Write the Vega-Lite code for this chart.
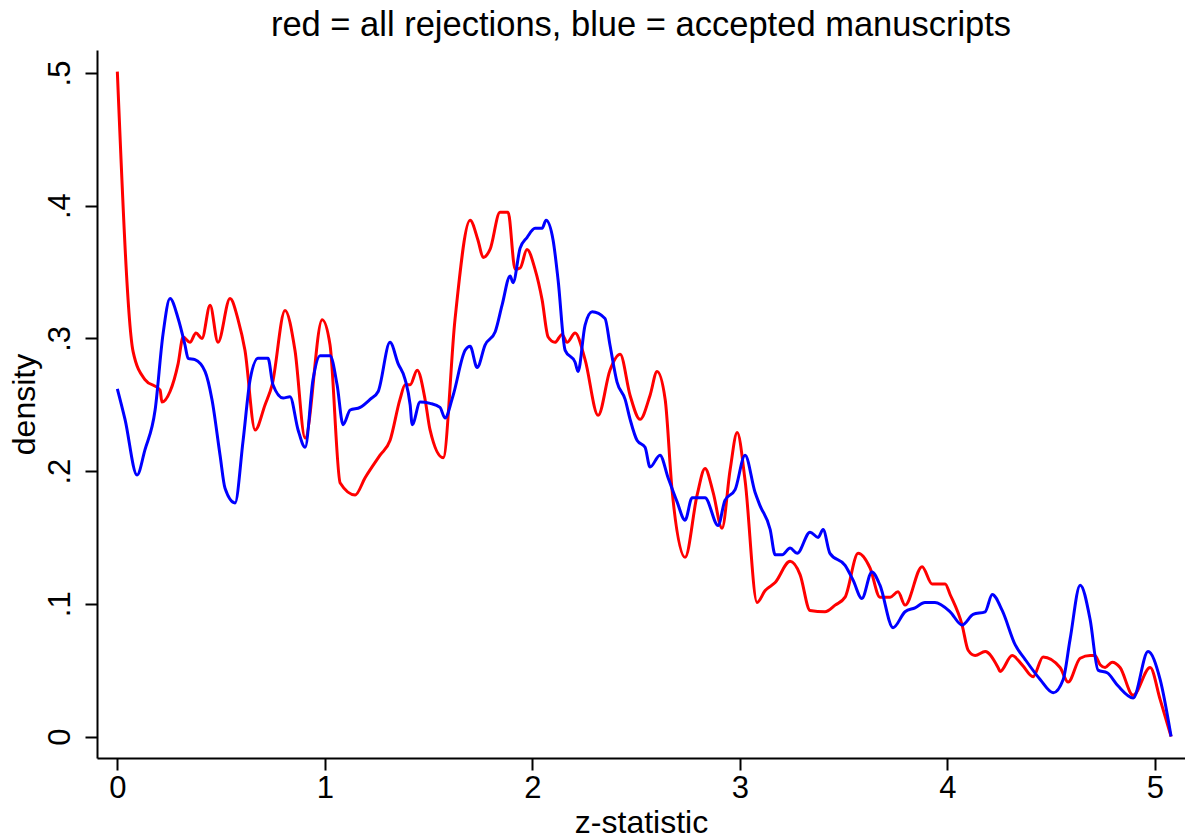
{
  "$schema": "https://vega.github.io/schema/vega-lite/v6.json",
  "width": 1088,
  "height": 708,
  "autosize": "none",
  "padding": {"left": 97, "top": 50, "right": 0, "bottom": 81},
  "background": "white",
  "config": {
    "font": "Liberation Sans",
    "view": {"stroke": null},
    "axis": {"grid": false, "domainColor": "black", "domainWidth": 2, "tickColor": "black", "tickWidth": 2, "tickSize": 12, "labelColor": "black", "titleColor": "black", "labelFont": "Liberation Sans", "titleFont": "Liberation Sans", "labelFontSize": 31, "titleFontSize": 32, "titleFontWeight": "normal"}
  },
  "title": {"text": "red = all rejections, blue = accepted manuscripts", "fontSize": 34.5, "fontWeight": "normal", "color": "black", "font": "Liberation Sans", "offset": 7},
  "datasets": {
    "red": [
      {"z":0.000,"d":0.501},{"z":0.076,"d":0.290},{"z":0.133,"d":0.269},{"z":0.206,"d":0.261},{"z":0.215,"d":0.252},{"z":0.254,"d":0.260},{"z":0.293,"d":0.281},{"z":0.317,"d":0.301},{"z":0.350,"d":0.297},{"z":0.379,"d":0.304},{"z":0.408,"d":0.300},{"z":0.447,"d":0.325},{"z":0.485,"d":0.297},{"z":0.543,"d":0.330},{"z":0.582,"d":0.314},{"z":0.615,"d":0.291},{"z":0.664,"d":0.231},{"z":0.712,"d":0.250},{"z":0.746,"d":0.265},{"z":0.808,"d":0.321},{"z":0.856,"d":0.291},{"z":0.905,"d":0.225},{"z":0.987,"d":0.314},{"z":1.025,"d":0.295},{"z":1.074,"d":0.191},{"z":1.146,"d":0.182},{"z":1.194,"d":0.195},{"z":1.266,"d":0.212},{"z":1.314,"d":0.223},{"z":1.362,"d":0.254},{"z":1.387,"d":0.265},{"z":1.411,"d":0.265},{"z":1.445,"d":0.276},{"z":1.483,"d":0.254},{"z":1.507,"d":0.231},{"z":1.570,"d":0.210},{"z":1.627,"d":0.314},{"z":1.700,"d":0.389},{"z":1.738,"d":0.374},{"z":1.763,"d":0.361},{"z":1.796,"d":0.367},{"z":1.844,"d":0.395},{"z":1.883,"d":0.395},{"z":1.917,"d":0.352},{"z":1.941,"d":0.353},{"z":1.974,"d":0.367},{"z":2.013,"d":0.352},{"z":2.047,"d":0.329},{"z":2.076,"d":0.301},{"z":2.109,"d":0.297},{"z":2.143,"d":0.303},{"z":2.167,"d":0.297},{"z":2.206,"d":0.304},{"z":2.254,"d":0.284},{"z":2.317,"d":0.242},{"z":2.374,"d":0.276},{"z":2.423,"d":0.288},{"z":2.471,"d":0.257},{"z":2.519,"d":0.239},{"z":2.567,"d":0.257},{"z":2.601,"d":0.275},{"z":2.640,"d":0.254},{"z":2.673,"d":0.186},{"z":2.736,"d":0.135},{"z":2.794,"d":0.182},{"z":2.832,"d":0.202},{"z":2.871,"d":0.184},{"z":2.914,"d":0.157},{"z":2.953,"d":0.201},{"z":2.987,"d":0.229},{"z":3.025,"d":0.193},{"z":3.083,"d":0.101},{"z":3.122,"d":0.110},{"z":3.170,"d":0.116},{"z":3.242,"d":0.132},{"z":3.290,"d":0.122},{"z":3.338,"d":0.095},{"z":3.410,"d":0.094},{"z":3.459,"d":0.099},{"z":3.507,"d":0.105},{"z":3.570,"d":0.138},{"z":3.627,"d":0.127},{"z":3.675,"d":0.105},{"z":3.724,"d":0.105},{"z":3.762,"d":0.109},{"z":3.796,"d":0.099},{"z":3.878,"d":0.128},{"z":3.926,"d":0.115},{"z":3.989,"d":0.115},{"z":4.013,"d":0.107},{"z":4.071,"d":0.084},{"z":4.100,"d":0.065},{"z":4.134,"d":0.061},{"z":4.182,"d":0.064},{"z":4.244,"d":0.052},{"z":4.254,"d":0.049},{"z":4.312,"d":0.061},{"z":4.360,"d":0.054},{"z":4.413,"d":0.045},{"z":4.461,"d":0.060},{"z":4.543,"d":0.052},{"z":4.582,"d":0.041},{"z":4.640,"d":0.059},{"z":4.688,"d":0.061},{"z":4.711,"d":0.061},{"z":4.736,"d":0.054},{"z":4.760,"d":0.052},{"z":4.794,"d":0.056},{"z":4.832,"d":0.052},{"z":4.895,"d":0.031},{"z":4.977,"d":0.052},{"z":5.025,"d":0.028},{"z":5.078,"d":0.000}
    ],
    "blue": [
      {"z":0.000,"d":0.262},{"z":0.037,"d":0.239},{"z":0.095,"d":0.197},{"z":0.133,"d":0.216},{"z":0.182,"d":0.246},{"z":0.220,"d":0.303},{"z":0.254,"d":0.330},{"z":0.293,"d":0.315},{"z":0.326,"d":0.295},{"z":0.341,"d":0.285},{"z":0.374,"d":0.284},{"z":0.423,"d":0.275},{"z":0.456,"d":0.254},{"z":0.495,"d":0.212},{"z":0.519,"d":0.187},{"z":0.567,"d":0.176},{"z":0.606,"d":0.223},{"z":0.640,"d":0.269},{"z":0.678,"d":0.285},{"z":0.726,"d":0.285},{"z":0.750,"d":0.265},{"z":0.799,"d":0.255},{"z":0.832,"d":0.256},{"z":0.871,"d":0.231},{"z":0.905,"d":0.218},{"z":0.943,"d":0.269},{"z":0.977,"d":0.287},{"z":1.025,"d":0.287},{"z":1.059,"d":0.265},{"z":1.088,"d":0.235},{"z":1.122,"d":0.246},{"z":1.170,"d":0.248},{"z":1.218,"d":0.254},{"z":1.257,"d":0.260},{"z":1.314,"d":0.297},{"z":1.353,"d":0.281},{"z":1.387,"d":0.269},{"z":1.411,"d":0.250},{"z":1.421,"d":0.235},{"z":1.459,"d":0.252},{"z":1.507,"d":0.251},{"z":1.555,"d":0.248},{"z":1.579,"d":0.240},{"z":1.618,"d":0.257},{"z":1.676,"d":0.291},{"z":1.700,"d":0.294},{"z":1.734,"d":0.278},{"z":1.772,"d":0.295},{"z":1.821,"d":0.305},{"z":1.854,"d":0.325},{"z":1.893,"d":0.347},{"z":1.907,"d":0.342},{"z":1.941,"d":0.368},{"z":1.974,"d":0.376},{"z":2.013,"d":0.383},{"z":2.047,"d":0.383},{"z":2.066,"d":0.389},{"z":2.100,"d":0.374},{"z":2.124,"d":0.344},{"z":2.158,"d":0.291},{"z":2.206,"d":0.282},{"z":2.220,"d":0.275},{"z":2.254,"d":0.310},{"z":2.288,"d":0.320},{"z":2.350,"d":0.315},{"z":2.374,"d":0.295},{"z":2.408,"d":0.267},{"z":2.447,"d":0.254},{"z":2.471,"d":0.239},{"z":2.505,"d":0.223},{"z":2.543,"d":0.218},{"z":2.567,"d":0.203},{"z":2.615,"d":0.212},{"z":2.654,"d":0.195},{"z":2.697,"d":0.177},{"z":2.736,"d":0.163},{"z":2.770,"d":0.180},{"z":2.832,"d":0.180},{"z":2.895,"d":0.159},{"z":2.928,"d":0.178},{"z":2.977,"d":0.186},{"z":3.025,"d":0.212},{"z":3.073,"d":0.184},{"z":3.097,"d":0.174},{"z":3.146,"d":0.156},{"z":3.170,"d":0.137},{"z":3.204,"d":0.137},{"z":3.242,"d":0.142},{"z":3.276,"d":0.138},{"z":3.338,"d":0.154},{"z":3.377,"d":0.150},{"z":3.401,"d":0.156},{"z":3.434,"d":0.138},{"z":3.507,"d":0.129},{"z":3.545,"d":0.118},{"z":3.588,"d":0.104},{"z":3.636,"d":0.124},{"z":3.675,"d":0.114},{"z":3.738,"d":0.082},{"z":3.796,"d":0.094},{"z":3.844,"d":0.097},{"z":3.892,"d":0.101},{"z":3.940,"d":0.101},{"z":4.013,"d":0.094},{"z":4.071,"d":0.084},{"z":4.124,"d":0.092},{"z":4.182,"d":0.094},{"z":4.216,"d":0.107},{"z":4.264,"d":0.095},{"z":4.327,"d":0.069},{"z":4.375,"d":0.058},{"z":4.447,"d":0.043},{"z":4.510,"d":0.033},{"z":4.558,"d":0.043},{"z":4.591,"d":0.073},{"z":4.640,"d":0.114},{"z":4.688,"d":0.088},{"z":4.726,"d":0.050},{"z":4.770,"d":0.048},{"z":4.823,"d":0.038},{"z":4.895,"d":0.029},{"z":4.967,"d":0.064},{"z":5.025,"d":0.043},{"z":5.078,"d":0.000}
    ]
  },
  "encoding": {
    "x": {"field": "z", "type": "quantitative", "title": "z-statistic",
      "scale": {"domain": [-0.098, 5.145], "nice": false, "zero": false},
      "axis": {"values": [0,1,2,3,4,5], "labelPadding": 3, "titlePadding": 4, "labelFlush": false}},
    "y": {"field": "d", "type": "quantitative", "title": "density",
      "scale": {"domain": [-0.0162, 0.5173], "nice": false, "zero": false},
      "axis": {"values": [0,0.1,0.2,0.3,0.4,0.5], "labelExpr": "datum.value == 0 ? '0' : replace(format(datum.value, '.1f'), '0.', '.')", "labelAngle": -90, "labelAlign": "center", "labelBaseline": "alphabetic", "labelPadding": 16, "titlePadding": 3, "labelFlush": false}}
  },
  "layer": [
    {"data": {"name": "red"}, "mark": {"type": "line", "color": "#FF0000", "strokeWidth": 3, "interpolate": "monotone"}},
    {"data": {"name": "blue"}, "mark": {"type": "line", "color": "#0000FF", "strokeWidth": 3, "interpolate": "monotone"}}
  ]
}
